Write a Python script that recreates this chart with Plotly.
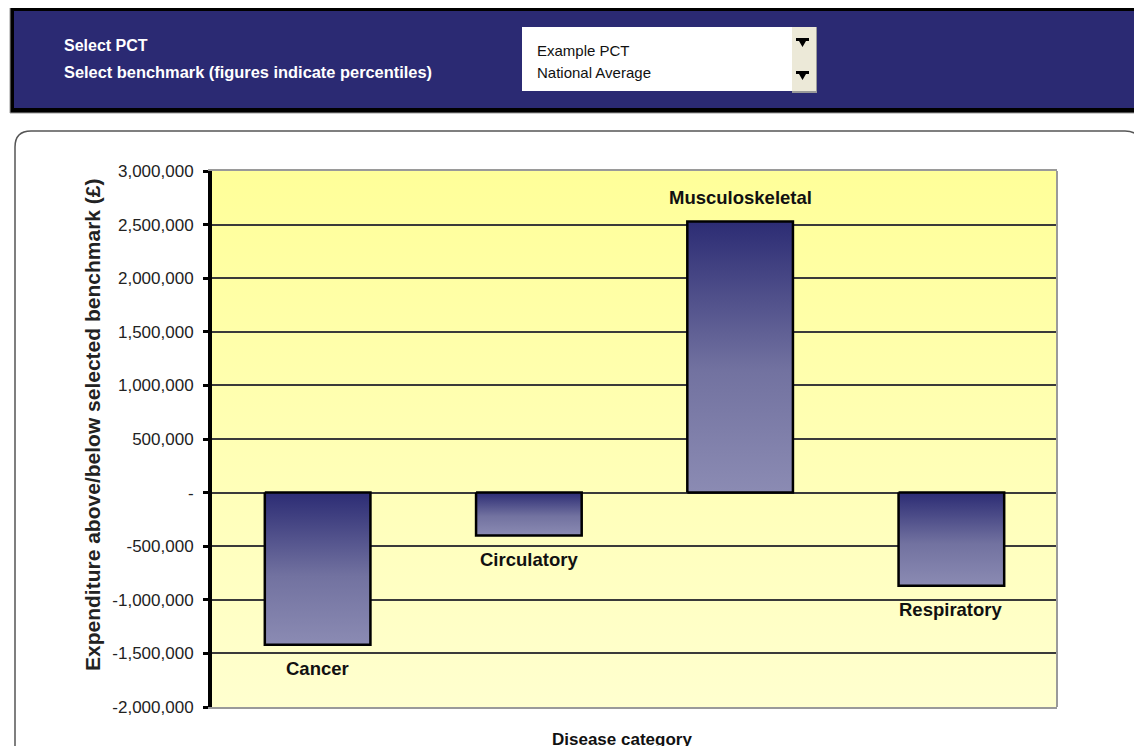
import base64
import plotly.graph_objects as go

# ---------------- data ----------------
categories = ["Cancer", "Circulatory", "Musculoskeletal", "Respiratory"]
values = [-1420000, -400000, 2530000, -870000]
tick_values = [-2000000, -1500000, -1000000, -500000, 0, 500000, 1000000,
               1500000, 2000000, 2500000, 3000000]
tick_labels = ["-2,000,000", "-1,500,000", "-1,000,000", "-500,000", "-",
               "500,000", "1,000,000", "1,500,000", "2,000,000", "2,500,000",
               "3,000,000"]
y_title = "Expenditure above/below selected benchmark (£)"
x_title = "Disease category"
header_labels = ["Select PCT", "Select benchmark (figures indicate percentiles)"]
dropdown_values = ["Example PCT", "National Average"]

# ---------------- geometry (page pixels; the page body has an 8px margin) ----------------
OFF = 8
W, H = 1142 - OFF, 746 - OFF
PL, PR, PT, PB = 212, 1057, 171, 707          # plot area in page pixels
L, T = PL - OFF, PT - OFF
R, B = W - (PR - OFF), H - (PB - OFF)
PW, PH = PR - PL, PB - PT
BAR_W = 0.5
FONT = "Liberation Sans, Arial, sans-serif"


def px(x):
    return (x - PL) / PW


def py(y):
    return (PB - y) / PH


fig = go.Figure()

# gradient bars (filled polygons on the data axes)
for i, (c, v) in enumerate(zip(categories, values)):
    lo, hi = min(0, v), max(0, v)
    fig.add_trace(go.Scatter(
        x=[i - BAR_W / 2, i + BAR_W / 2, i + BAR_W / 2, i - BAR_W / 2, i - BAR_W / 2],
        y=[0, 0, v, v, 0],
        mode="lines", fill="toself",
        line=dict(color="#000000", width=2.5),
        fillgradient=dict(type="vertical",
                          colorscale=[[0, "#8B8BB3"], [0.45, "#7272A0"], [1, "#2C2C74"]],
                          start=lo, stop=hi),
        hoverinfo="skip", showlegend=False,
    ))

# category labels beyond the bar ends
for i, (c, v) in enumerate(zip(categories, values)):
    fig.add_annotation(x=i, y=v, xref="x", yref="y", text=c, showarrow=False,
                       yshift=24 if v > 0 else -24,
                       font=dict(family=FONT, size=18.5, color="#111111", weight="bold"))

# plot background gradient as an image below gridlines
svg = ('<svg xmlns="http://www.w3.org/2000/svg" width="10" height="100" viewBox="0 0 10 100" '
       'preserveAspectRatio="none"><defs><linearGradient id="g" x1="0" y1="0" x2="0" y2="1">'
       '<stop offset="0" stop-color="#FFFF99"/><stop offset="1" stop-color="#FFFFCF"/>'
       '</linearGradient></defs><rect width="10" height="100" fill="url(#g)"/></svg>')
src = "data:image/svg+xml;base64," + base64.b64encode(svg.encode()).decode()
fig.add_layout_image(dict(source=src, xref="paper", yref="paper", x=0, y=1,
                          sizex=1, sizey=1, sizing="stretch", layer="below",
                          xanchor="left", yanchor="top"))

shapes = []
# header band
shapes.append(dict(type="rect", xref="paper", yref="paper", x0=px(10), x1=px(1160),
                   y0=py(7), y1=py(113), line=dict(color="#9a9a9a", width=1), fillcolor="#000000",
                   layer="above"))
shapes.append(dict(type="rect", xref="paper", yref="paper", x0=px(14), x1=px(1160),
                   y0=py(11), y1=py(108), line=dict(width=0), fillcolor="#2B2A73", layer="above"))
# dropdown box
shapes.append(dict(type="rect", xref="paper", yref="paper", x0=px(522), x1=px(792),
                   y0=py(27), y1=py(91), line=dict(width=0), fillcolor="#FFFFFF", layer="above"))
shapes.append(dict(type="rect", xref="paper", yref="paper", x0=px(792), x1=px(817),
                   y0=py(27), y1=py(93), line=dict(width=0), fillcolor="#9a9a9a", layer="above"))
shapes.append(dict(type="rect", xref="paper", yref="paper", x0=px(792), x1=px(816),
                   y0=py(27), y1=py(91), line=dict(width=0), fillcolor="#ECE9D8", layer="above"))
for ay in (38, 71):
    path = (f"M {px(796)} {py(ay)} L {px(809)} {py(ay)} L {px(809)} {py(ay+3)} "
            f"L {px(806)} {py(ay+3)} L {px(802.5)} {py(ay+9)} L {px(799)} {py(ay+3)} "
            f"L {px(796)} {py(ay+3)} Z")
    shapes.append(dict(type="path", xref="paper", yref="paper", path=path,
                       fillcolor="#000000", line=dict(width=0), layer="above"))
# rounded panel outline
r = 16
panel = (f"M {px(15)} {py(760)} L {px(15)} {py(131 + r)} "
         f"Q {px(15)} {py(131)} {px(15 + r)} {py(131)} "
         f"L {px(1141 - r)} {py(131)} Q {px(1141)} {py(131)} {px(1141)} {py(131 + r)} "
         f"L {px(1141)} {py(760)}")
shapes.append(dict(type="path", xref="paper", yref="paper", path=panel,
                   line=dict(color="#555555", width=1.5), layer="below"))
# right border of plot area
shapes.append(dict(type="line", xref="paper", yref="paper", x0=1, x1=1, y0=0, y1=1,
                   line=dict(color="#9a9a9a", width=2), layer="above"))

annotations = [
    dict(x=px(62), y=py(45), xref="paper", yref="paper", xanchor="left", yanchor="middle",
         text=header_labels[0], showarrow=False,
         font=dict(family=FONT, size=16, color="#FFFFFF", weight="bold")),
    dict(x=px(62), y=py(72), xref="paper", yref="paper", xanchor="left", yanchor="middle",
         text=header_labels[1], showarrow=False,
         font=dict(family=FONT, size=16.4, color="#FFFFFF", weight="bold")),
    dict(x=px(535), y=py(50), xref="paper", yref="paper", xanchor="left", yanchor="middle",
         text=dropdown_values[0], showarrow=False,
         font=dict(family=FONT, size=15, color="#111111")),
    dict(x=px(535), y=py(72), xref="paper", yref="paper", xanchor="left", yanchor="middle",
         text=dropdown_values[1], showarrow=False,
         font=dict(family=FONT, size=15, color="#111111")),
    dict(x=px(92), y=py(425), xref="paper", yref="paper", xanchor="center", yanchor="middle",
         text=y_title, textangle=-90, showarrow=False,
         font=dict(family=FONT, size=21, color="#222222", weight="bold")),
    dict(x=px(622), y=py(739), xref="paper", yref="paper", xanchor="center", yanchor="middle",
         text=x_title, showarrow=False,
         font=dict(family=FONT, size=17, color="#111111", weight="bold")),
]

fig.update_layout(
    width=W, height=H,
    margin=dict(l=L, r=R, t=T, b=B, pad=0),
    paper_bgcolor="#FFFFFF",
    plot_bgcolor="rgba(0,0,0,0)",
    showlegend=False,
    shapes=shapes,
)
for a in annotations:
    fig.add_annotation(**a)

fig.update_xaxes(range=[-0.5, len(categories) - 0.5], showgrid=False, zeroline=False,
                 showticklabels=False, ticks="", showline=True, linecolor="#9a9a9a",
                 linewidth=2, mirror=True, fixedrange=True)
fig.update_yaxes(range=[tick_values[0], tick_values[-1]], tickvals=tick_values,
                 ticktext=tick_labels, showgrid=True, gridcolor="#3a3a3a", gridwidth=1.5,
                 zeroline=False, showline=True, linecolor="#000000", linewidth=4,
                 ticks="outside", ticklen=5, tickwidth=3, tickcolor="#000000",
                 ticklabelstandoff=6,
                 tickfont=dict(family=FONT, size=17, color="#222222"), fixedrange=True)

fig.write_html("out.html")
